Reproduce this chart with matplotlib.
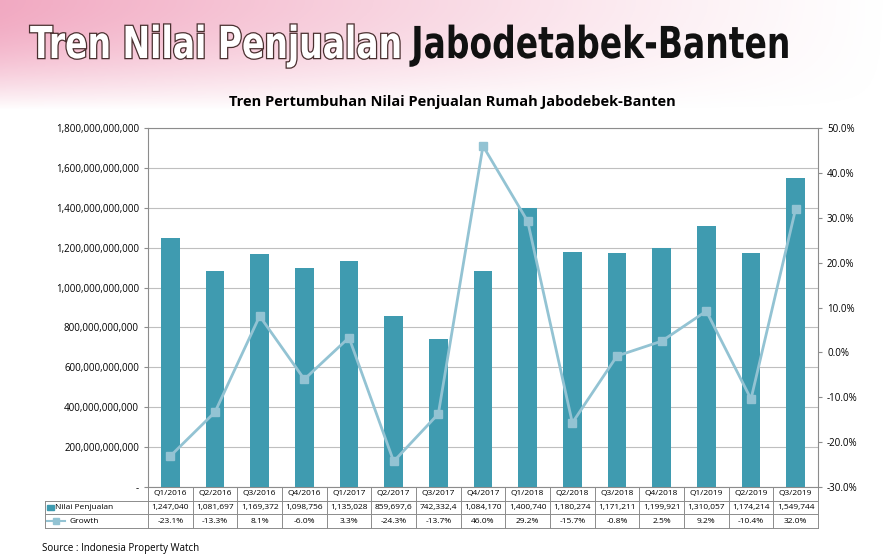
import numpy as np
import matplotlib.pyplot as plt
from matplotlib.patches import Rectangle, PathPatch
from matplotlib.textpath import TextPath
from matplotlib.font_manager import FontProperties
from matplotlib.transforms import Affine2D
import matplotlib.patheffects as pe

quarters = ["Q1/2016", "Q2/2016", "Q3/2016", "Q4/2016", "Q1/2017", "Q2/2017", "Q3/2017", "Q4/2017",
            "Q1/2018", "Q2/2018", "Q3/2018", "Q4/2018", "Q1/2019", "Q2/2019", "Q3/2019"]
nilai_juta = [1247040, 1081697, 1169372, 1098756, 1135028, 859697.6, 742332.4, 1084170,
              1400740, 1180274, 1171211, 1199921, 1310057, 1174214, 1549744]
nilai_label = ["1,247,040", "1,081,697", "1,169,372", "1,098,756", "1,135,028", "859,697,6", "742,332,4",
               "1,084,170", "1,400,740", "1,180,274", "1,171,211", "1,199,921", "1,310,057", "1,174,214", "1,549,744"]
growth = [-23.1, -13.3, 8.1, -6.0, 3.3, -24.3, -13.7, 46.0, 29.2, -15.7, -0.8, 2.5, 9.2, -10.4, 32.0]

BAR = "#3f9bb0"
LINE = "#93c3d3"
FONT = "Open Sans"

W, H = 895, 559
fig = plt.figure(figsize=(W / 100, H / 100), dpi=100)
fig.patch.set_facecolor("white")

# pinkish watercolor band at top, fading out to the right and downwards
bg = fig.add_axes([0, 0, 1, 1])
bg.set_xlim(0, W)
bg.set_ylim(H, 0)
bg.axis("off")
xx = np.linspace(0, 1, 300)[None, :]
yy = np.linspace(0, 1, 100)[:, None]
alpha = np.clip((1 - xx) ** 1.2 * (1 - yy ** 2) * 0.75, 0, 1)
img = np.zeros((100, 300, 4))
img[..., 0] = 0.93
img[..., 1] = 0.55
img[..., 2] = 0.68
img[..., 3] = alpha
bg.imshow(img, extent=[0, W, 110, 0], aspect="auto")


def narrow_text(x, y, s, color, size, stretch=0.75, shadow=False):
    fp = FontProperties(family="DejaVu Sans", weight="bold")
    tp = TextPath((0, 0), s, size=size, prop=fp)
    tr = Affine2D().scale(stretch, -1).translate(x, y)
    path = tr.transform_path(tp)
    effects = [pe.withStroke(linewidth=1.8, foreground="#4a3030")] if shadow else None
    bg.add_patch(PathPatch(path, facecolor=color, edgecolor="none", path_effects=effects))
    return x + path.get_extents().width


end = narrow_text(30, 58, "Tren Nilai Penjualan", "white", 44, shadow=True)
narrow_text(end + 12, 58, "Jabodetabek-Banten", "#111111", 44)

fig.text(452 / W, 1 - 102 / H, "Tren Pertumbuhan Nilai Penjualan Rumah Jabodebek-Banten",
         fontsize=10.5, fontweight="bold", family=FONT, ha="center", va="center")

L, R, T, B = 148, 818, 128, 487
ax = fig.add_axes([L / W, 1 - B / H, (R - L) / W, (B - T) / H])
x = np.arange(len(quarters))
vals = np.array(nilai_juta) * 1e6
ax.bar(x, vals, width=0.42, color=BAR, zorder=3)
ax.set_xlim(-0.5, len(quarters) - 0.5)
ax.set_ylim(0, 1.8e12)
ticks = np.arange(0, 1.81e12, 2e11)
ax.set_yticks(ticks)
ax.set_yticklabels(["-"] + [f"{int(t):,}" for t in ticks[1:]], fontsize=7, family=FONT)
ax.set_xticks([])
ax.grid(axis="y", color="#bfbfbf", linewidth=0.8, zorder=0)
for s in ax.spines.values():
    s.set_color("#8c8c8c")
    s.set_linewidth(0.8)
ax.tick_params(axis="y", length=3, color="#8c8c8c")

ax2 = ax.twinx()
ax2.plot(x, growth, color=LINE, linewidth=2, marker="s", markersize=6, zorder=4)
ax2.set_ylim(-30, 50)
ax2.set_yticks(np.arange(-30, 51, 10))
ax2.set_yticklabels([f"{t:.1f}%" for t in np.arange(-30, 51, 10)], fontsize=7, family=FONT)
ax2.tick_params(axis="y", length=3, color="#8c8c8c")
for s in ax2.spines.values():
    s.set_visible(False)

# data table
TT, TB = 487, 528
tab = fig.add_axes([L / W, 1 - TB / H, (R - L) / W, (TB - TT) / H])
tab.set_xlim(-0.5, len(quarters) - 0.5)
tab.set_ylim(3, 0)
tab.axis("off")
lx = -0.5 - (L - 45) / ((R - L) / len(quarters))
lc = "#8c8c8c"
for yv in [1, 2, 3]:
    tab.plot([lx, 14.5], [yv, yv], color=lc, lw=0.7, clip_on=False)
tab.plot([-0.5, 14.5], [0, 0], color=lc, lw=0.7, clip_on=False)
tab.plot([lx, lx], [1, 3], color=lc, lw=0.7, clip_on=False)
for i in range(len(quarters) + 1):
    tab.plot([i - 0.5, i - 0.5], [0, 3], color=lc, lw=0.7, clip_on=False)
for i, q in enumerate(quarters):
    tab.text(i, 0.5, q, ha="center", va="center", fontsize=6, family=FONT)
    tab.text(i, 1.5, nilai_label[i], ha="center", va="center", fontsize=6, family=FONT)
    tab.text(i, 2.5, f"{growth[i]:.1f}%", ha="center", va="center", fontsize=6, family=FONT)
tab.add_patch(Rectangle((lx + 0.05, 1.3), 0.15, 0.4, color=BAR, clip_on=False))
tab.text(lx + 0.22, 1.5, "Nilai Penjualan", va="center", fontsize=6, family=FONT)
tab.plot([lx + 0.05, lx + 0.45], [2.5, 2.5], color=LINE, lw=1.5, clip_on=False)
tab.plot([lx + 0.25], [2.5], marker="s", color=LINE, markersize=4, clip_on=False)
tab.text(lx + 0.55, 2.5, "Growth", va="center", fontsize=6, family=FONT)

fig.text(42 / W, 1 - 549 / H, "Source : Indonesia Property Watch", fontsize=7, family=FONT, va="center")

fig.savefig("out.png", dpi=100)
